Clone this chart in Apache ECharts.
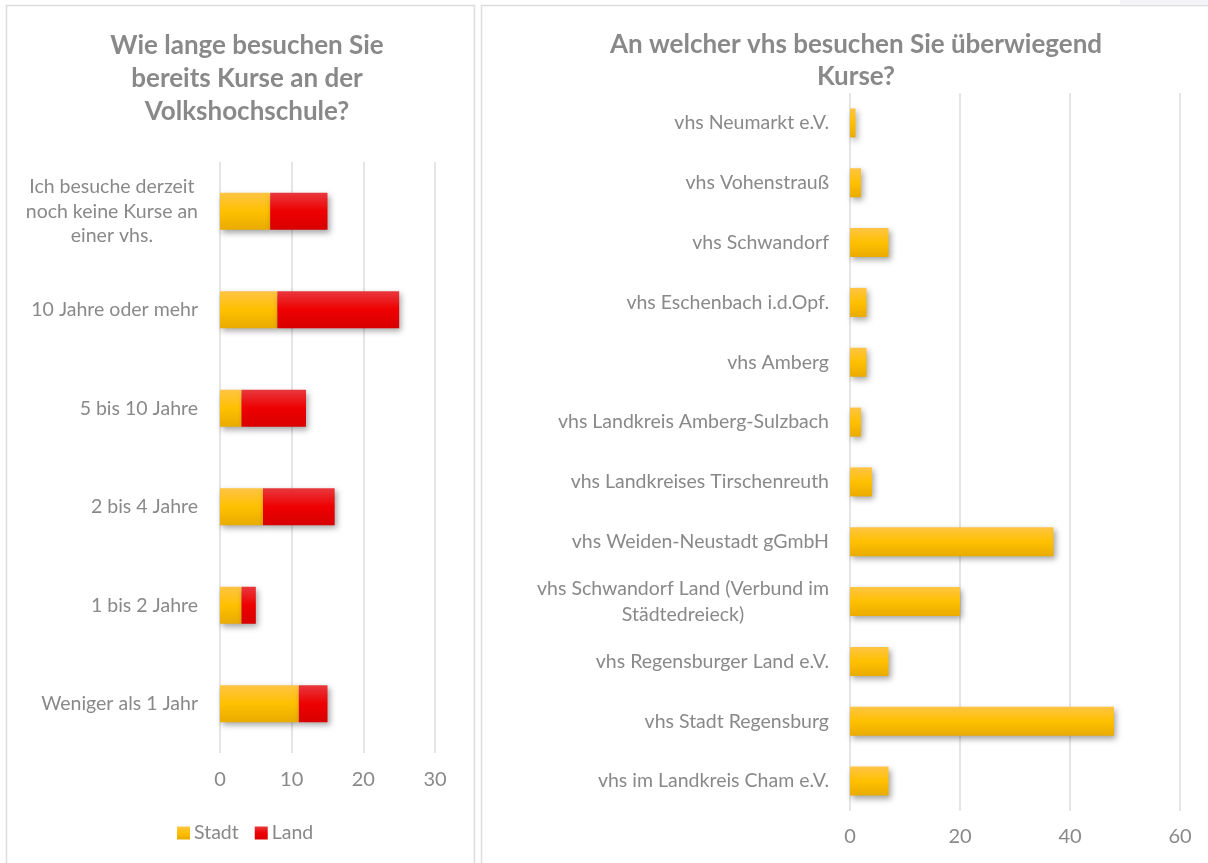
<!DOCTYPE html>
<html>
<head>
<meta charset="utf-8">
<script src="https://cdn.jsdelivr.net/npm/echarts@6/dist/echarts.min.js"></script>
<style>
  html, body { margin: 0; padding: 0; background: #fff; }
  #main { width: 1208px; height: 863px; }
</style>
</head>
<body>
<div id="main"></div>
<script>
// left chart: Wie lange ...
var durationCats = [
    'Ich besuche derzeit\nnoch keine Kurse an\neiner vhs.',
    '10 Jahre oder mehr',
    '5 bis 10 Jahre',
    '2 bis 4 Jahre',
    '1 bis 2 Jahre',
    'Weniger als 1 Jahr'
];
var stadtValues = [7, 8, 3, 6, 3, 11];
var landValues = [8, 17, 9, 10, 2, 4];
var durationTicks = [0, 10, 20, 30];

// right chart: An welcher vhs ...
var vhsCats = [
    'vhs Neumarkt e.V.',
    'vhs Vohenstrauß',
    'vhs Schwandorf',
    'vhs Eschenbach i.d.Opf.',
    'vhs Amberg',
    'vhs Landkreis Amberg-Sulzbach',
    'vhs Landkreises Tirschenreuth',
    'vhs Weiden-Neustadt gGmbH',
    'vhs Schwandorf Land (Verbund im\nStädtedreieck)',
    'vhs Regensburger Land e.V.',
    'vhs Stadt Regensburg',
    'vhs im Landkreis Cham e.V.'
];
var vhsValues = [1, 2, 7, 3, 3, 2, 4, 37, 20, 7, 48, 7];
var vhsTicks = [0, 20, 40, 60];

var FONT = 'Lato, "Open Sans", sans-serif';
var GREY = '#898989';

function grad(c1, c2, c3) {
    return new echarts.graphic.LinearGradient(0, 0, 0, 1, [
        { offset: 0, color: c1 },
        { offset: 0.5, color: c2 },
        { offset: 1, color: c3 }
    ]);
}
var yellow = grad('#ffc444', '#ffc000', '#e9ab00');
var red = grad('#e8383d', '#ee0000', '#d80000');

function catLabel(v) {
    if (v.indexOf('\n') < 0) return v;
    return v.split('\n').map(function (l) { return '{c|' + l + '}'; }).join('\n');
}

var shadow = {
    shadowBlur: 6,
    shadowOffsetX: 2,
    shadowOffsetY: 3,
    shadowColor: 'rgba(0,0,0,0.35)'
};

var chartDom = document.getElementById('main');
var myChart = echarts.init(chartDom);
var option;

option = {
    textStyle: { fontFamily: FONT },
    animation: false,
    graphic: [
        { type: 'rect', shape: { x: 6.5, y: 5.5, width: 468, height: 900 },
          style: { fill: 'none', stroke: '#dcdcdc', lineWidth: 1.5 } },
        { type: 'rect', shape: { x: 481.5, y: 5.5, width: 800, height: 900 },
          style: { fill: 'none', stroke: '#dcdcdc', lineWidth: 1.5 } },
        { type: 'rect', shape: { x: 1120, y: 0, width: 88, height: 4 },
          style: { fill: '#f3f3f8' } }
    ],
    title: [
        {
            text: 'Wie lange besuchen Sie\nbereits Kurse an der\nVolkshochschule?',
            left: 242, top: 24, textAlign: 'center',
            textStyle: { color: GREY, fontSize: 26, fontWeight: 'bold', lineHeight: 33, fontFamily: FONT }
        },
        {
            text: 'An welcher vhs besuchen Sie überwiegend\nKurse?',
            left: 851, top: 24, textAlign: 'center',
            textStyle: { color: GREY, fontSize: 26, fontWeight: 'bold', lineHeight: 32, fontFamily: FONT }
        }
    ],
    legend: {
        data: ['Stadt', 'Land'],
        left: 172, top: 818,
        itemWidth: 13, itemHeight: 13, itemGap: 16,
        icon: 'rect',
        textStyle: { color: GREY, fontSize: 19.5, fontFamily: FONT, padding: [0, 0, 0, -1] }
    },
    grid: [
        { left: 220, right: 773, top: 162, bottom: 110 },
        { left: 850, right: 28, top: 93, bottom: 52 }
    ],
    xAxis: [
        {
            gridIndex: 0, type: 'value', min: 0, max: 30, interval: 10,
            axisLine: { show: false }, axisTick: { show: false },
            splitLine: { lineStyle: { color: '#dcdcdc', width: 1.5 } },
            axisLabel: { color: GREY, fontSize: 20, margin: 17,
                formatter: function (v) { return durationTicks.indexOf(v) >= 0 ? String(v) : ''; } }
        },
        {
            gridIndex: 1, type: 'value', min: 0, max: 60, interval: 20,
            axisLine: { show: false }, axisTick: { show: false },
            splitLine: { lineStyle: { color: '#dcdcdc', width: 1.5 } },
            axisLabel: { color: GREY, fontSize: 20, margin: 16,
                formatter: function (v) { return vhsTicks.indexOf(v) >= 0 ? String(v) : ''; } }
        }
    ],
    yAxis: [
        {
            gridIndex: 0, type: 'category', data: durationCats, inverse: true,
            axisLine: { show: false }, axisTick: { show: false },
            axisLabel: { color: GREY, fontSize: 19.5, margin: 22, lineHeight: 24.5,
                formatter: catLabel, rich: { c: { align: 'center', fontSize: 19.5, color: GREY, lineHeight: 24.5 } } }
        },
        {
            gridIndex: 1, type: 'category', data: vhsCats, inverse: true,
            axisLine: { show: false }, axisTick: { show: false },
            axisLabel: { color: GREY, fontSize: 19.5, margin: 21, lineHeight: 26,
                formatter: catLabel, rich: { c: { align: 'center', fontSize: 19.5, color: GREY, lineHeight: 26 } } }
        }
    ],
    series: [
        {
            name: 'Stadt', type: 'bar', stack: 'dauer',
            xAxisIndex: 0, yAxisIndex: 0, barWidth: 37,
            data: stadtValues,
            itemStyle: Object.assign({ color: yellow }, shadow)
        },
        {
            name: 'Land', type: 'bar', stack: 'dauer',
            xAxisIndex: 0, yAxisIndex: 0, barWidth: 37,
            data: landValues,
            itemStyle: Object.assign({ color: red }, shadow)
        },
        {
            name: 'vhs', type: 'bar',
            xAxisIndex: 1, yAxisIndex: 1, barWidth: 29,
            data: vhsValues,
            itemStyle: Object.assign({ color: yellow }, shadow)
        }
    ]
};

option && myChart.setOption(option);
</script>
</body>
</html>
